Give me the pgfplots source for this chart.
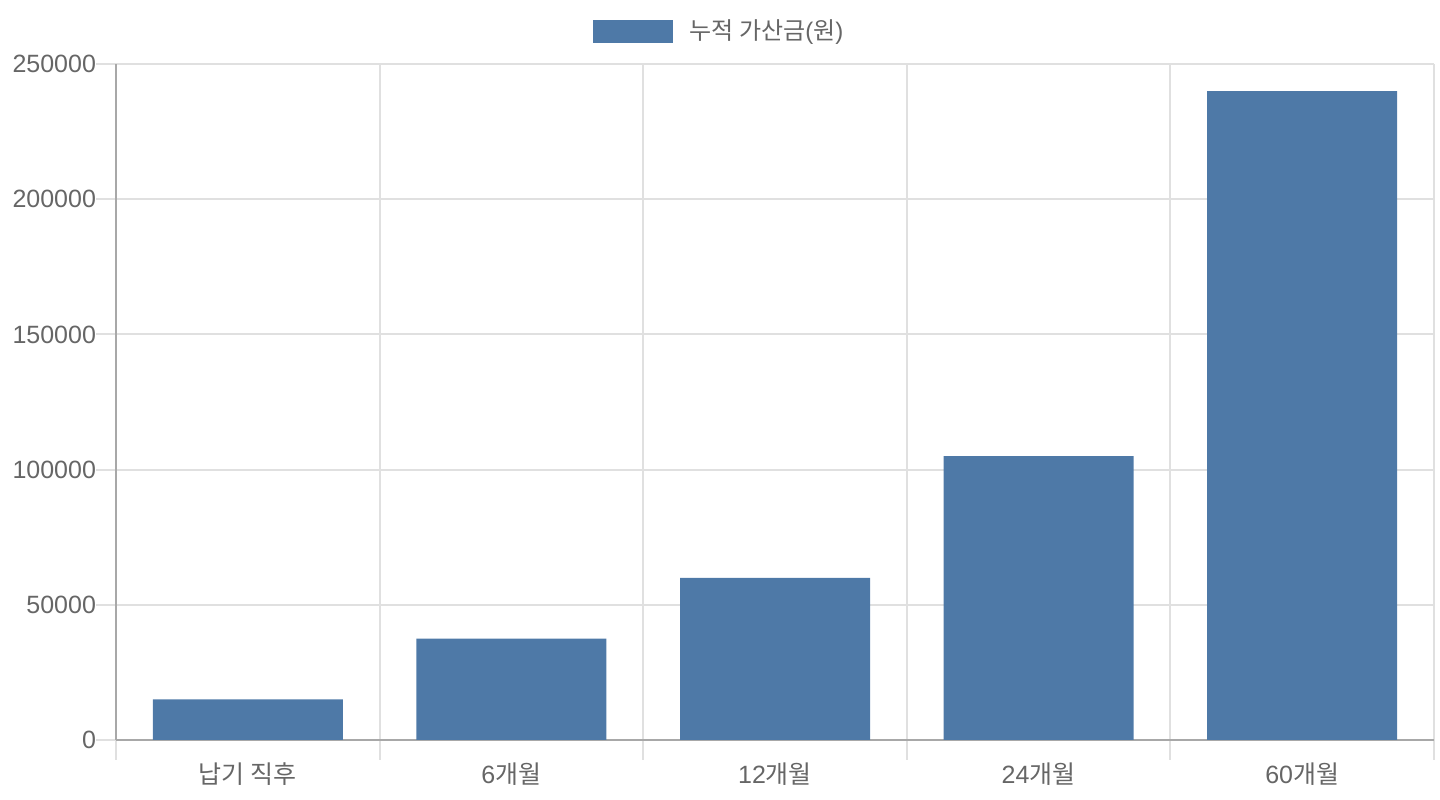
\documentclass[border=0pt]{standalone}
\usepackage{fontspec}
\setmainfont{Liberation Sans}
\newfontfamily\kr{Noto Sans CJK KR}
\usepackage{pgfplots}
\pgfplotsset{compat=1.18}
\definecolor{barblue}{HTML}{4E79A7}
\definecolor{txt}{HTML}{666666}
\definecolor{gridc}{HTML}{E0E0E0}
\definecolor{axisc}{HTML}{A8A8A8}

\begin{document}
\begin{tikzpicture}
% 1px of the reference = 0.5bp; origin at the lower left corner of the axis
\path[use as bounding box] (-58bp,-30bp) rectangle (662bp,370bp);
\begin{axis}[
    at={(0,0)}, anchor=south west,
    scale only axis, width=659bp, height=338bp,
    xmin=-0.5, xmax=4.5,
    ymin=0, ymax=250000,
    axis lines=left,
    axis line style={-, draw=axisc, line width=1bp},
    xtick={0,1,2,3,4},
    xticklabels={{\kr 납기 직후},6{\kr 개월},12{\kr 개월},24{\kr 개월},60{\kr 개월}},
    minor xtick={-0.5,0.5,1.5,2.5,3.5,4.5},
    major x tick style={draw=none},
    ytick={0,50000,100000,150000,200000,250000},
    scaled y ticks=false,
    /pgf/number format/.cd, fixed, 1000 sep={}, assume math mode=true,
    /pgfplots/.cd,
    tick label style={font=\fontsize{12.5bp}{14bp}\selectfont, text=txt},
    yticklabel style={xshift=3.5bp},
    xticklabel style={yshift=2bp},
    tick align=outside,
    major tick length=10bp, minor tick length=10bp,
    tick style={draw=gridc, line width=1bp},
    ymajorgrids=true, xminorgrids=true, xmajorgrids=false,
    grid style={draw=gridc, line width=1bp},
    legend style={draw=none, fill=none, at={(axis description cs:0.4583,1.0488)},
        anchor=center, font=\fontsize{12bp}{14bp}\selectfont, text=txt,
        /tikz/every odd column/.append style={column sep=6.5bp}},
]
\addplot[ybar, bar width=95bp, bar shift=0pt, fill=barblue, draw=none,
    legend image code/.code={\fill[barblue] (0bp,-5.75bp) rectangle (40bp,5.75bp);}]
    coordinates {(0,15000) (1,37500) (2,60000) (3,105000) (4,240000)};
\addlegendentry{{\kr 누적 가산금}({\kr 원})}
\end{axis}
\end{tikzpicture}
\end{document}
